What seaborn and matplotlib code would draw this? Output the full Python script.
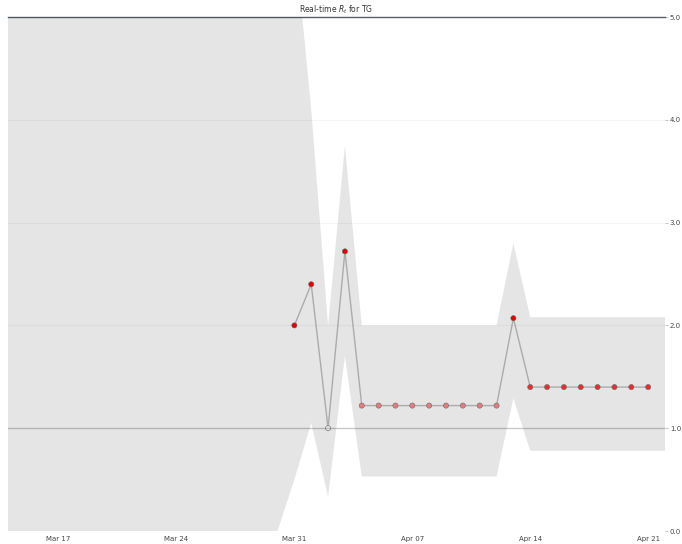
import numpy as np
import pandas as pd
import matplotlib
matplotlib.use("Agg")
import matplotlib.pyplot as plt
import matplotlib.dates as mdates
import matplotlib.ticker as ticker
from matplotlib.colors import ListedColormap
import seaborn as sns

# Most-likely Rt per day (first estimate on Mar 31)
rt_start = "2020-03-31"
rt_values = [2.00, 2.40, 1.00, 2.72,
             1.22, 1.22, 1.22, 1.22, 1.22, 1.22, 1.22, 1.22, 1.22,
             2.07,
             1.40, 1.40, 1.40, 1.40, 1.40, 1.40, 1.40, 1.40]

# 90% credible interval, Mar 14 .. Apr 22 (last day carried forward)
band_start = "2020-03-14"
band_low = [0.00, 0.00, 0.00, 0.00, 0.00, 0.00, 0.00, 0.00, 0.00, 0.00,
            0.00, 0.00, 0.00, 0.00, 0.00, 0.00, 0.00,
            0.50, 1.05, 0.33, 1.70,
            0.53, 0.53, 0.53, 0.53, 0.53, 0.53, 0.53, 0.53, 0.53,
            1.29,
            0.78, 0.78, 0.78, 0.78, 0.78, 0.78, 0.78, 0.78, 0.78]
band_high = [8.00, 8.00, 8.00, 8.00, 8.00, 8.00, 8.00, 8.00, 8.00, 8.00,
             8.00, 8.00, 8.00, 8.00, 8.00, 8.00, 8.00,
             5.80, 4.10, 2.00, 3.75,
             2.00, 2.00, 2.00, 2.00, 2.00, 2.00, 2.00, 2.00, 2.00,
             2.80,
             2.08, 2.08, 2.08, 2.08, 2.08, 2.08, 2.08, 2.08, 2.08]

region = "TG"

rt_dates = pd.date_range(rt_start, periods=len(rt_values), freq="D")
band_dates = pd.date_range(band_start, periods=len(band_low), freq="D")
df = pd.DataFrame({"date": rt_dates, "ml": rt_values})

# black -> white -> red colormap centred on Rt = 1
ABOVE = [1, 0, 0]
MIDDLE = [1, 1, 1]
BELOW = [0, 0, 0]
cmap = ListedColormap(np.r_[np.linspace(BELOW, MIDDLE, 25),
                            np.linspace(MIDDLE, ABOVE, 25)])
mapped = np.clip(df["ml"].values, 0.5, 1.5) - 0.5
df["colour"] = [matplotlib.colors.to_hex(c) for c in cmap(mapped)]

sns.set_style("white")
plt.rcParams["font.family"] = ["DejaVu Sans"]

fig = plt.figure(figsize=(6.82, 5.44), dpi=100)
ax = fig.add_axes([8 / 682, 1 - 531 / 544, 657 / 682, 514 / 544])

sns.lineplot(data=df, x="date", y="ml", color="k", alpha=0.25, lw=1,
             zorder=1, ax=ax)
sns.scatterplot(data=df, x="date", y="ml", hue="colour",
                palette={c: c for c in df["colour"].unique()},
                s=14, linewidth=0.4, edgecolor="#777777", legend=False,
                zorder=2, ax=ax)
ax.fill_between(band_dates, band_low, band_high, color="k", alpha=0.1,
                lw=0, zorder=3)
ax.axhline(1.0, c="k", lw=1, alpha=0.18)

ax.set_title(f"Real-time $R_t$ for {region}", fontsize=5.5, pad=3,
             color="#333333")

ax.xaxis.set_major_locator(mdates.WeekdayLocator(byweekday=mdates.TU))
ax.xaxis.set_major_formatter(mdates.DateFormatter("%b %d"))
ax.xaxis.set_minor_locator(mdates.DayLocator())
ax.yaxis.set_major_locator(ticker.MultipleLocator(1))
ax.yaxis.set_major_formatter(ticker.StrMethodFormatter("{x:.1f}"))
ax.yaxis.tick_right()

for side in ("left", "bottom", "right"):
    ax.spines[side].set_visible(False)
ax.spines["top"].set_color("#5a606b")
ax.spines["top"].set_linewidth(1.0)

ax.tick_params(axis="both", which="major", labelsize=5, length=2,
               width=0.5, colors="#aaaaaa", labelcolor="#444444", pad=1.5)
ax.tick_params(axis="x", which="minor", length=1.5, width=0.6,
               colors="#bbbbbb")
ax.tick_params(axis="y", which="both", length=2, pad=1.5)

ax.grid(which="major", axis="y", c="k", alpha=0.04, lw=0.8, zorder=-2)
ax.set_xlabel("")
ax.set_ylabel("")
ax.set_ylim(0.0, 5.0)
ax.set_xlim(band_dates[0], band_dates[-1])

fig.set_facecolor("w")
fig.savefig("out.png", dpi=100, facecolor="w")
